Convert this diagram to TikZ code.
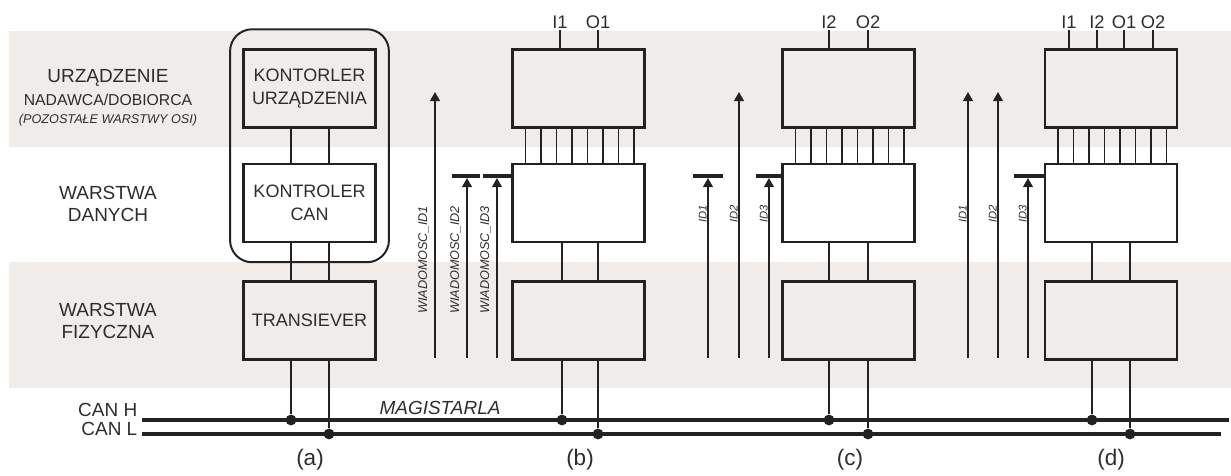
\documentclass[tikz,border=0pt]{standalone}
\usepackage{fontspec}
\setmainfont{Liberation Sans}
\usetikzlibrary{positioning,arrows.meta,calc,fit}
\definecolor{bandgray}{RGB}{239,236,233}
\definecolor{ink}{RGB}{34,34,34}
\definecolor{txt}{RGB}{45,45,45}
\tikzset{
  band/.style={fill=bandgray,draw=none},
  lay/.style={text=txt,align=center,inner sep=1pt,font=\fontsize{13.5}{15.6}\selectfont},
  blk/.style={draw=ink,line width=2pt,minimum width=3.3cm,minimum height=1.95cm,
    inner sep=0pt,align=center,text=txt,font=\fontsize{12.8}{16}\selectfont},
  grp/.style={draw=ink,line width=1.4pt,rounded corners=0.55cm,inner xsep=0.3cm,inner ysep=0.47cm},
  wire/.style={draw=ink,line width=1.4pt},
  busln/.style={draw=ink,line width=2.3pt},
  dot/.style={circle,fill=ink,inner sep=0pt,minimum size=0.27cm},
  pinl/.style={text=txt,inner sep=1pt,font=\fontsize{13}{15}\selectfont},
  % ---- message arrows ----
  msg/.style={draw=ink,line width=1.2pt,-{Triangle[width=7pt,length=6.5pt]}},
  bar/.style={draw=ink,line width=2.6pt},
  msgl/.style={rotate=90,anchor=south,text=txt,inner sep=0pt,font=\fontsize{9}{10}\selectfont\itshape},
  idl/.style={msgl,font=\fontsize{8}{9}\selectfont\itshape},
  capl/.style={text=txt,font=\fontsize{16}{18}\selectfont},
}
\begin{document}
\begin{tikzpicture}[x=0.025cm,y=-0.025cm]
  \useasboundingbox (0,0) rectangle (1231,475);
  % layer bands
  \fill[band] (9,31) rectangle (1231,147);
  \fill[band] (9,262) rectangle (1231,388);
  % layer names
  \node[lay] (urz) at (108,78) {URZĄDZENIE};
  \node[lay,font=\fontsize{11.2}{13}\selectfont] (nad) at (108,100) {NADAWCA/DOBIORCA};
  \node[lay,font=\fontsize{9}{11}\selectfont\itshape] (poz) at (108,120) {(POZOSTAŁE WARSTWY OSI)};
  \node[lay] (lnk) at (108,204) {WARSTWA\\DANYCH};
  \node[lay] (phy) at (108,321) {WARSTWA\\FIZYCZNA};
  % column (a)
  \node[blk] (devA) at (309.5,88.5) {KONTORLER\\URZĄDZENIA};
  \node[blk] (canA) at (309.5,203) {KONTROLER\\CAN};
  \node[blk] (trA) at (309.5,320.5) {TRANSIEVER};
  \node[grp,fit=(devA)(canA)] (nodeA) {};
  % columns (b), (c), (d)
  \foreach \c/\cx in {B/578.5,C/848.5,D/1111}{
    \node[blk] (dev\c) at (\cx,88.5) {};
    \node[blk,fill=white] (can\c) at (\cx,203) {};
    \node[blk] (tr\c) at (\cx,320.5) {};
    \foreach \k in {0,...,7}
      \draw[wire] ($(dev\c.south)+(-53+15.5*\k,0)$) -- ($(can\c.north)+(-53+15.5*\k,0)$);
  }
  % bus
  \coordinate (hl) at (142,420);
  \coordinate (hr) at (1229,420);
  \coordinate (ll) at (142,434);
  \coordinate (lr) at (1221,434);
  \draw[busln] (hl) -- (hr);
  \draw[busln] (ll) -- (lr);
  \node[lay,anchor=east] (canh) at (139,410) {CAN H};
  \node[lay,anchor=east] (canl) at (139,429) {CAN L};
  \node[lay,font=\fontsize{13.5}{15}\selectfont\itshape] (mag) at (440,408) {MAGISTARLA};
  % taps to the bus
  \foreach \c/\cx/\oh/\ol in {A/309.5/-18.5/19.5,B/578.5/-16.5/19.5,C/848.5/-19.5/19.5,D/1111/-19/19}{
    \node[dot] (h\c) at (\cx+\oh,420) {};
    \node[dot] (l\c) at (\cx+\ol,434) {};
    \draw[wire] (h\c) -- (h\c |- tr\c.south);
    \draw[wire] (l\c) -- (l\c |- tr\c.south);
    \draw[wire] (h\c |- tr\c.north) -- (h\c |- can\c.south);
    \draw[wire] (l\c |- tr\c.north) -- (l\c |- can\c.south);
  }
  \draw[wire] (hA |- devA.south) -- (hA |- canA.north);
  \draw[wire] (lA |- devA.south) -- (lA |- canA.north);
  % inputs / outputs
  \foreach \c/\px/\pl in {B/560/I1,B/598/O1,C/829/I2,C/868/O2,D/1069/I1,D/1097/I2,D/1124/O1,D/1153/O2}{
    \node[pinl] (p\c\pl) at (\px,22) {\pl};
    \draw[wire] (p\c\pl) -- (p\c\pl |- dev\c.north);
  }
  % messages (b)
  \coordinate (bB1) at (452,176);
  \coordinate (eB1) at (480,176);
  \coordinate (bB2) at (483,176);
  \draw[bar] (bB1) -- (eB1);
  \draw[bar] (bB2) -- (bB2 -| canB.west);
  \foreach \ax/\ay [count=\i] in {435/92,467/178,497/178}{
    \coordinate (mB\i) at (\ax,358);
    \coordinate (tB\i) at (\ax,\ay);
    \draw[msg] (mB\i) -- (tB\i);
    \node[msgl] (wB\i) at (\ax-6,260) {WIADOMOSC\_ID\i};
  }
  % messages (c)
  \coordinate (bC1) at (693,176);
  \coordinate (eC1) at (723,176);
  \coordinate (bC2) at (756,176);
  \draw[bar] (bC1) -- (eC1);
  \draw[bar] (bC2) -- (bC2 -| canC.west);
  \foreach \ax/\ay [count=\i] in {708/178,739/92,769/178}{
    \coordinate (mC\i) at (\ax,358);
    \coordinate (tC\i) at (\ax,\ay);
    \draw[msg] (mC\i) -- (tC\i);
    \node[idl] (wC\i) at (\ax-1,214) {ID\i};
  }
  % messages (d)
  \coordinate (bD1) at (1014,176);
  \draw[bar] (bD1) -- (bD1 -| canD.west);
  \foreach \ax/\ay [count=\i] in {968/92,998/92,1028/178}{
    \coordinate (mD\i) at (\ax,358);
    \coordinate (tD\i) at (\ax,\ay);
    \draw[msg] (mD\i) -- (tD\i);
    \node[idl] (wD\i) at (\ax-1,214) {ID\i};
  }
  % captions
  \node[capl] (ca) at (310,460) {(a)};
  \node[capl] (cb) at (580,460) {(b)};
  \node[capl] (cc) at (850,460) {(c)};
  \node[capl] (cd) at (1111,460) {(d)};
\end{tikzpicture}
\end{document}
